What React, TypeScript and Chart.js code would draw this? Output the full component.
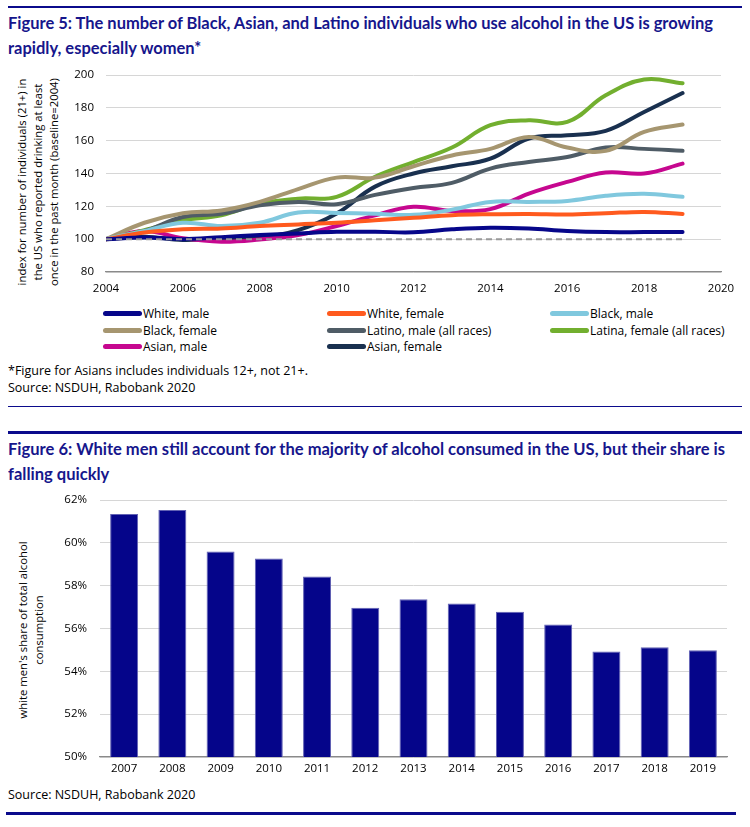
import React, { useEffect, useLayoutEffect, useRef } from "react";
import { Chart, registerables } from "chart.js";

Chart.register(...registerables);

// ---------- Figure 5 data ----------
const years = [2004, 2005, 2006, 2007, 2008, 2009, 2010, 2011, 2012, 2013, 2014, 2015, 2016, 2017, 2018, 2019];
const baseline = [100, 100, 100, 100, 100, 100, 100, 100, 100, 100, 100, 100, 100, 100, 100, 100];
const whiteMale = [100, 101, 100, 101.2, 102.5, 103.5, 104.5, 104.5, 104.2, 106, 107, 106.5, 105, 104.3, 104.3, 104.3];
const whiteFemale = [100, 104, 106, 106.5, 108, 109, 110, 111.5, 113, 114.6, 115.2, 115.4, 115, 115.8, 116.6, 115.4];
const blackMale = [100, 105, 110, 108, 110, 116.2, 116, 115.5, 114.8, 118, 122.7, 122.7, 123.3, 126.4, 127.6, 125.8];
const blackFemale = [100, 110, 115.8, 117.5, 122.7, 130.5, 137.5, 137.5, 144.4, 151, 155, 162.3, 155.8, 153.8, 165.3, 169.8];
const latinoMale = [100, 105, 113.5, 115.5, 120.7, 122.7, 121.3, 127, 131.2, 134.3, 143, 147, 150, 155.8, 155, 153.8];
const latinaFemale = [100, 105.5, 111.5, 114.6, 121.7, 124.7, 125.8, 138, 147, 155.8, 169.4, 172.4, 171.4, 187.6, 197.2, 195];
const asianMale = [100, 105, 100.5, 98.5, 99.8, 102.5, 108, 114.5, 119.7, 117.2, 118.3, 127.8, 134.9, 140.6, 140, 146];
const asianFemale = [100, 101.5, 99.5, 100.5, 101, 105.5, 115.6, 132, 140, 144.4, 149, 161.3, 163.3, 166, 177.5, 189];

const seriesNames = [
  "White, male",
  "White, female",
  "Black, male",
  "Black, female",
  "Latino, male (all races)",
  "Latina, female (all races)",
  "Asian, male",
  "Asian, female",
];
const seriesValues = [whiteMale, whiteFemale, blackMale, blackFemale, latinoMale, latinaFemale, asianMale, asianFemale];
const seriesColors = ["#06068a", "#ff5a1e", "#80c8de", "#a69670", "#4f5c66", "#72af2f", "#c6078f", "#19304f"];

const yTicks5 = [80, 100, 120, 140, 160, 180, 200];
const xTicks5 = [2004, 2006, 2008, 2010, 2012, 2014, 2016, 2018, 2020];

// ---------- Figure 6 data ----------
const barYears = ["2007", "2008", "2009", "2010", "2011", "2012", "2013", "2014", "2015", "2016", "2017", "2018", "2019"];
const whiteMenShare = [61.35, 61.53, 59.6, 59.27, 58.43, 56.97, 57.37, 57.17, 56.78, 56.19, 54.93, 55.13, 54.99];
const yTicks6 = [50, 52, 54, 56, 58, 60, 62];

const BLUE = "#0b0b8c";
const TITLE_COLOR = "#16168c";
const UI_FONT = "'Open Sans', 'Noto Sans', sans-serif";
const TITLE_FONT = "Lato, 'Noto Sans', sans-serif";

function LineFigure() {
  const ref = useRef<HTMLCanvasElement | null>(null);
  useEffect(() => {
    if (!ref.current) return;
    const datasets: any[] = [
      {
        label: "baseline",
        data: years.map((x, i) => ({ x, y: baseline[i] })),
        borderColor: "#999999",
        borderWidth: 2,
        borderDash: [6, 4],
        pointRadius: 0,
        tension: 0,
        fill: false,
      },
      ...seriesNames.map((name, s) => ({
        label: name,
        data: years.map((x, i) => ({ x, y: seriesValues[s][i] })),
        borderColor: seriesColors[s],
        backgroundColor: seriesColors[s],
        borderWidth: 4,
        pointRadius: 0,
        tension: 0.4,
        borderCapStyle: "round",
        fill: false,
      })),
    ];
    const chart = new Chart(ref.current, {
      type: "line",
      data: { datasets },
      options: {
        animation: false,
        responsive: false,
        maintainAspectRatio: false,
        layout: { padding: { left: 0, top: 13, right: 29, bottom: 0 } },
        plugins: { legend: { display: false }, tooltip: { enabled: false }, title: { display: false } },
        scales: {
          x: {
            type: "linear",
            min: 2004,
            max: 2020,
            afterBuildTicks: (s: any) => {
              s.ticks = xTicks5.map((v) => ({ value: v }));
            },
            afterFit: (s: any) => {
              s.height = 30;
              s.paddingLeft = 0;
              s.paddingRight = 0;
            },
            grid: { display: false, drawTicks: false },
            border: { display: true, color: "#8a8a8a", width: 1.3 },
            ticks: {
              padding: 10,
              color: "#000",
              font: { family: UI_FONT, size: 11.5 },
              maxRotation: 0,
              callback: (v: any) => String(v),
            },
          },
          y: {
            min: 80,
            max: 200,
            afterBuildTicks: (s: any) => {
              s.ticks = yTicks5.map((v) => ({ value: v }));
            },
            afterFit: (s: any) => {
              s.width = 106;
              s.paddingTop = 0;
              s.paddingBottom = 0;
            },
            grid: { color: "#d6d6d6", lineWidth: 1, drawTicks: false },
            border: { display: false },
            ticks: {
              padding: 12,
              color: "#000",
              font: { family: UI_FONT, size: 11.5 },
              callback: (v: any) => String(v),
            },
          },
        },
      } as any,
    });
    return () => chart.destroy();
  }, []);
  return <canvas ref={ref} width={750} height={240} style={{ position: "absolute", left: 0, top: 62, width: 750, height: 240 }} />;
}

function BarFigure() {
  const ref = useRef<HTMLCanvasElement | null>(null);
  useEffect(() => {
    if (!ref.current) return;
    const chart = new Chart(ref.current, {
      type: "bar",
      data: {
        labels: barYears,
        datasets: [
          {
            label: "white men's share of total alcohol consumption",
            data: whiteMenShare,
            backgroundColor: "#05058a",
            borderColor: "#6262b4",
            borderWidth: 1,
            barPercentage: 0.58,
            categoryPercentage: 1,
          },
        ],
      },
      options: {
        animation: false,
        responsive: false,
        maintainAspectRatio: false,
        layout: { padding: { left: 0, top: 12, right: 23, bottom: 0 } },
        plugins: { legend: { display: false }, tooltip: { enabled: false }, title: { display: false } },
        scales: {
          x: {
            afterFit: (s: any) => {
              s.height = 23;
              s.paddingLeft = 0;
              s.paddingRight = 0;
            },
            grid: { display: false, drawTicks: false },
            border: { display: true, color: "#8a8a8a", width: 1.3 },
            ticks: { padding: 5, color: "#000", font: { family: UI_FONT, size: 11.5 }, maxRotation: 0 },
          },
          y: {
            min: 50,
            max: 62,
            afterBuildTicks: (s: any) => {
              s.ticks = yTicks6.map((v) => ({ value: v }));
            },
            afterFit: (s: any) => {
              s.width = 100;
              s.paddingTop = 0;
              s.paddingBottom = 0;
            },
            grid: { color: "#d6d6d6", lineWidth: 1, drawTicks: false },
            border: { display: false },
            ticks: {
              padding: 13,
              color: "#000",
              font: { family: UI_FONT, size: 11.5 },
              callback: (v: any) => v + "%",
            },
          },
        },
      } as any,
    });
    return () => chart.destroy();
  }, []);
  return <canvas ref={ref} width={750} height={292} style={{ position: "absolute", left: 0, top: 488, width: 750, height: 292 }} />;
}

function Rule({ top, left, width, h }: { top: number; left: number; width: number; h: number }) {
  return <div style={{ position: "absolute", top, left, width, height: h, background: BLUE }} />;
}

function RotatedTitle({ cx, cy, lines, w, lh }: { cx: number; cy: number; lines: string[]; w: number; lh: number }) {
  const h = lh * lines.length;
  return (
    <div
      style={{
        position: "absolute",
        left: cx - w / 2,
        top: cy - h / 2,
        width: w,
        height: h,
        lineHeight: lh + "px",
        fontFamily: UI_FONT,
        fontSize: 11.3,
        color: "#000",
        textAlign: "center",
        whiteSpace: "nowrap",
        transform: "rotate(-90deg)",
      }}
    >
      {lines.map((l, i) => (
        <div key={i}>{l}</div>
      ))}
    </div>
  );
}

function FigureTitle({ top, lines, targetWidth }: { top: number; lines: string[]; targetWidth: number }) {
  const wrap = useRef<HTMLDivElement | null>(null);
  const first = useRef<HTMLSpanElement | null>(null);
  useLayoutEffect(() => {
    if (!wrap.current || !first.current) return;
    const w = first.current.getBoundingClientRect().width;
    if (w > 0) wrap.current.style.transform = `scaleX(${targetWidth / w})`;
  }, [targetWidth]);
  return (
    <div
      ref={wrap}
      style={{
        position: "absolute",
        left: 8,
        top,
        fontFamily: TITLE_FONT,
        fontWeight: 700,
        fontSize: 17,
        lineHeight: "25px",
        color: TITLE_COLOR,
        whiteSpace: "nowrap",
        transformOrigin: "0 0",
      }}
    >
      {lines.map((l, i) => (
        <div key={i}>
          <span ref={i === 0 ? first : undefined}>{l}</span>
        </div>
      ))}
    </div>
  );
}

export default function App() {
  const smallText: React.CSSProperties = {
    position: "absolute",
    left: 8,
    fontFamily: UI_FONT,
    fontSize: 12.5,
    lineHeight: "17px",
    color: "#000",
    whiteSpace: "nowrap",
  };
  const legendCols = [103, 327, 550];
  const legendRows = [313, 330, 346];
  return (
    <div style={{ position: "fixed", left: 0, top: 0, width: 750, height: 827, background: "#fff", overflow: "hidden" }}>
      <Rule top={6} left={8} width={734} h={2} />
      <FigureTitle
        top={10}
        targetWidth={705}
        lines={["Figure 5: The number of Black, Asian, and Latino individuals who use alcohol in the US is growing", "rapidly, especially women*"]}
      />
      <RotatedTitle
        cx={38}
        cy={182}
        w={260}
        lh={16}
        lines={["index for number of individuals (21+) in", "the US who reported drinking at least", "once in the past month (baseline=2004)"]}
      />
      <LineFigure />
      {seriesNames.map((name, i) => {
        const col = i % 3;
        const row = Math.floor(i / 3);
        return (
          <div
            key={name}
            style={{
              position: "absolute",
              left: legendCols[col],
              top: legendRows[row] - 9,
              height: 18,
              display: "flex",
              alignItems: "center",
              fontFamily: UI_FONT,
              fontSize: 12,
              color: "#000",
              whiteSpace: "nowrap",
            }}
          >
            <span style={{ display: "inline-block", width: 39, height: 5, borderRadius: 2.5, background: seriesColors[i], marginRight: 1 }} />
            <span>{name}</span>
          </div>
        );
      })}
      <div style={{ ...smallText, top: 361.5 }}>*Figure for Asians includes individuals 12+, not 21+.</div>
      <div style={{ ...smallText, top: 378.5 }}>Source: NSDUH, Rabobank 2020</div>
      <Rule top={405.5} left={8} width={734} h={1.2} />
      <Rule top={431} left={8} width={734} h={2.5} />
      <FigureTitle
        top={435.5}
        targetWidth={717}
        lines={["Figure 6: White men still account for the majority of alcohol consumed in the US, but their share is", "falling quickly"]}
      />
      <RotatedTitle cx={31} cy={630} w={240} lh={16} lines={["white men's share of total alcohol", "consumption"]} />
      <BarFigure />
      <div style={{ ...smallText, top: 785.5 }}>Source: NSDUH, Rabobank 2020</div>
      <Rule top={812} left={6} width={730} h={2.5} />
    </div>
  );
}
